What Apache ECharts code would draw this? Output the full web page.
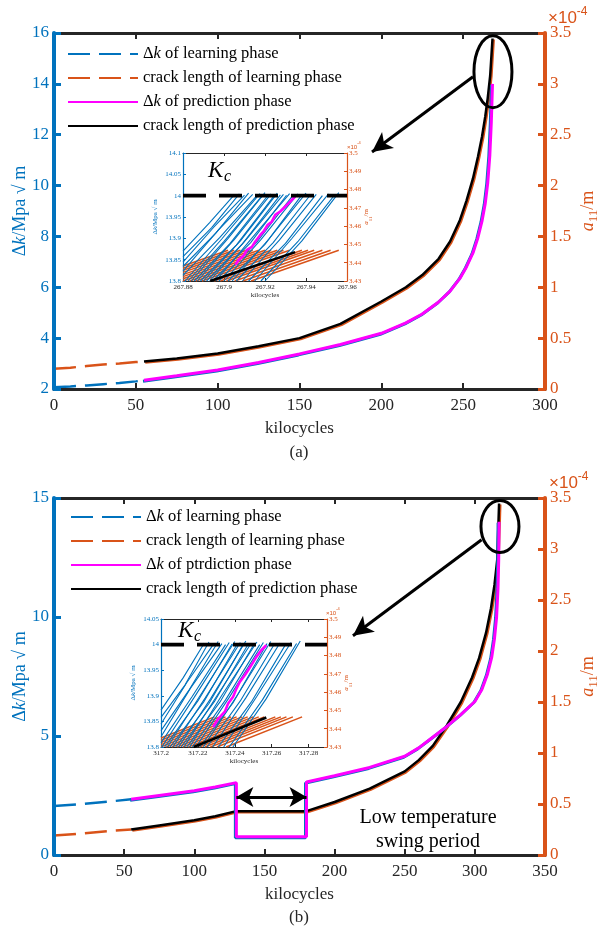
<!DOCTYPE html>
<html>
<head>
<meta charset="utf-8">
<script src="https://cdn.jsdelivr.net/npm/echarts@6/dist/echarts.min.js"></script>
<style>
html,body{margin:0;padding:0;background:#fff;}
#chart{width:602px;height:932px;}
</style>
</head>
<body>
<div id="chart"></div>
<script>
// ---------- panel (a): constant temperature ----------
const aLearnX   = [0, 10, 20, 30, 40, 50, 55];
const aLearnDk  = [2.07, 2.10, 2.14, 2.19, 2.24, 2.30, 2.34];
const aLearnLen = [0.20, 0.21, 0.225, 0.24, 0.25, 0.265, 0.27];

const aPredX    = [55, 75, 100, 125, 150, 175, 200, 215, 225, 235, 242, 248, 252, 256, 259, 261.5, 263.5, 265, 266.3, 267.2, 267.93];
const aPredDk   = [2.34, 2.52, 2.75, 3.04, 3.38, 3.75, 4.19, 4.60, 4.95, 5.42, 5.85, 6.35, 6.80, 7.35, 7.95, 8.60, 9.30, 10.1, 11.2, 12.5, 14.0];
const aCrackX   = [55, 75, 100, 125, 150, 175, 200, 215, 225, 235, 242, 248, 252, 256, 259, 261.5, 263.5, 265, 266.5, 267.93];
const aPredLen  = [0.27, 0.30, 0.35, 0.42, 0.50, 0.64, 0.86, 1.00, 1.12, 1.28, 1.45, 1.66, 1.85, 2.07, 2.28, 2.48, 2.68, 2.86, 3.08, 3.446];

// ---------- panel (b): with low temperature swing ----------
const bLearnX   = [0, 20, 40, 55];
const bLearnDk  = [2.06, 2.14, 2.25, 2.34];
const bLearnLen = [0.19, 0.21, 0.235, 0.25];

const bPredX    = [55, 75, 100, 115, 130, 130, 180, 180, 200, 225, 250, 260, 270, 280, 290, 300, 305, 309, 312, 314, 315.5, 316.5, 317, 317.26];
const bPredDk   = [2.34, 2.50, 2.70, 2.86, 3.04, 0.77, 0.77, 3.07, 3.33, 3.68, 4.15, 4.50, 4.95, 5.40, 5.90, 6.45, 6.95, 7.60, 8.30, 9.10, 10.0, 11.2, 12.4, 14.0];
const bCrackX   = [55, 75, 100, 115, 130, 180, 200, 225, 250, 260, 270, 280, 290, 298, 303, 308, 311.5, 314, 316, 317.26];
const bPredLen  = [0.25, 0.29, 0.34, 0.38, 0.43, 0.43, 0.52, 0.65, 0.82, 0.93, 1.07, 1.27, 1.50, 1.74, 1.93, 2.18, 2.42, 2.65, 2.90, 3.446];

// ---------- inset of (a): last cycles before Kc ----------
const kcA = [[267.88, 14], [267.96, 14]];
const insetADk = [
  [[267.880,13.870],[267.893,13.937],[267.905,14.002]],
  [[267.880,13.857],[267.894,13.925],[267.9075,14.004]],
  [[267.880,13.844],[267.895,13.926],[267.910,14.001]],
  [[267.880,13.834],[267.896,13.912],[267.912,14.006]],
  [[267.880,13.823],[267.897,13.918],[267.914,14.003]],
  [[267.880,13.813],[267.898,13.902],[267.916,14.000]],
  [[267.881,13.800],[267.899,13.899],[267.9175,14.005]],
  [[267.8825,13.800],[267.900,13.893],[267.919,14.002]],
  [[267.884,13.800],[267.902,13.900],[267.920,14.007]],
  [[267.8855,13.800],[267.903,13.888],[267.9215,14.001]],
  [[267.887,13.800],[267.905,13.897],[267.923,14.004]],
  [[267.8885,13.800],[267.906,13.884],[267.9245,14.000]],
  [[267.890,13.800],[267.908,13.894],[267.926,14.006]],
  [[267.8915,13.800],[267.909,13.887],[267.9275,14.002]],
  [[267.893,13.800],[267.911,13.898],[267.929,14.003]],
  [[267.8945,13.800],[267.913,13.890],[267.9305,14.001]],
  [[267.896,13.800],[267.914,13.903],[267.932,14.005]],
  [[267.8975,13.800],[267.916,13.891],[267.9335,14.000]],
  [[267.900,13.800],[267.918,13.897],[267.936,14.004]],
  [[267.902,13.800],[267.920,13.886],[267.938,14.002]],
  [[267.904,13.800],[267.922,13.899],[267.940,14.006]],
  [[267.906,13.800],[267.924,13.890],[267.942,14.001]],
  [[267.909,13.800],[267.927,13.896],[267.945,14.003]],
  [[267.912,13.800],[267.930,13.888],[267.948,14.000]],
  [[267.915,13.800],[267.933,13.899],[267.951,14.004]],
  [[267.918,13.800],[267.936,13.892],[267.954,14.002]],
  [[267.920,13.800],[267.938,13.894],[267.956,14.007]]
];
const insetALen = [
  [[267.880,3.4382],[267.902,3.4468]],
  [[267.880,3.4370],[267.905,3.4468]],
  [[267.880,3.4359],[267.908,3.4468]],
  [[267.880,3.4347],[267.911,3.4468]],
  [[267.880,3.4335],[267.914,3.4468]],
  [[267.880,3.4324],[267.917,3.4468]],
  [[267.880,3.4312],[267.920,3.4468]],
  [[267.880,3.4300],[267.923,3.4468]],
  [[267.8832,3.430],[267.926,3.4468]],
  [[267.8862,3.430],[267.929,3.4468]],
  [[267.8892,3.430],[267.932,3.4468]],
  [[267.8952,3.430],[267.938,3.4468]],
  [[267.8982,3.430],[267.941,3.4468]],
  [[267.9012,3.430],[267.944,3.4468]],
  [[267.9052,3.430],[267.948,3.4468]],
  [[267.9092,3.430],[267.952,3.4468]],
  [[267.9132,3.430],[267.956,3.4468]]
];
const insetADkPred = [[267.9055,13.838],[267.9071,13.849],[267.9095,13.859],[267.9112,13.873],[267.9136,13.880],
  [267.9152,13.892],[267.9177,13.908],[267.9193,13.916],[267.9212,13.931],[267.9233,13.939],[267.9250,13.955],
  [267.9274,13.963],[267.9298,13.974],[267.9323,13.986],[267.9347,13.998]];
const insetALenPred = [[267.8933,3.430],[267.9347,3.4458]];

// ---------- inset of (b) ----------
const kcB = [[317.2, 14], [317.29, 14]];
const insetBDk = [
  [[317.200,13.872],[317.212,13.935],[317.2235,14.003]],
  [[317.200,13.858],[317.213,13.921],[317.226,14.005]],
  [[317.200,13.845],[317.214,13.926],[317.2285,14.001]],
  [[317.200,13.832],[317.215,13.910],[317.231,14.006]],
  [[317.200,13.820],[317.216,13.915],[317.233,14.002]],
  [[317.200,13.808],[317.217,13.899],[317.235,14.000]],
  [[317.2005,13.800],[317.218,13.897],[317.237,14.004]],
  [[317.202,13.800],[317.220,13.890],[317.2385,14.001]],
  [[317.2035,13.800],[317.221,13.899],[317.240,14.006]],
  [[317.205,13.800],[317.223,13.887],[317.2415,14.002]],
  [[317.2065,13.800],[317.224,13.896],[317.243,14.004]],
  [[317.208,13.800],[317.226,13.885],[317.2445,14.000]],
  [[317.2095,13.800],[317.227,13.895],[317.246,14.007]],
  [[317.211,13.800],[317.229,13.889],[317.2475,14.002]],
  [[317.2125,13.800],[317.230,13.898],[317.249,14.003]],
  [[317.214,13.800],[317.232,13.888],[317.2505,14.001]],
  [[317.2155,13.800],[317.233,13.901],[317.252,14.005]],
  [[317.217,13.800],[317.235,13.892],[317.2535,14.000]],
  [[317.219,13.800],[317.237,13.897],[317.2555,14.004]],
  [[317.221,13.800],[317.239,13.886],[317.2575,14.002]],
  [[317.223,13.800],[317.241,13.899],[317.2595,14.006]],
  [[317.225,13.800],[317.243,13.890],[317.2615,14.001]],
  [[317.228,13.800],[317.246,13.896],[317.2645,14.003]],
  [[317.231,13.800],[317.249,13.888],[317.2675,14.000]],
  [[317.234,13.800],[317.252,13.899],[317.2705,14.004]],
  [[317.237,13.800],[317.255,13.892],[317.2735,14.002]],
  [[317.239,13.800],[317.257,13.894],[317.2755,14.007]]
];
const insetBLen = [
  [[317.200,3.4349],[317.229,3.4465]],
  [[317.200,3.4337],[317.232,3.4465]],
  [[317.200,3.4325],[317.235,3.4465]],
  [[317.200,3.4313],[317.238,3.4465]],
  [[317.200,3.4301],[317.241,3.4465]],
  [[317.2028,3.430],[317.244,3.4465]],
  [[317.2058,3.430],[317.247,3.4465]],
  [[317.2088,3.430],[317.250,3.4465]],
  [[317.2118,3.430],[317.253,3.4465]],
  [[317.2148,3.430],[317.256,3.4465]],
  [[317.2208,3.430],[317.262,3.4465]],
  [[317.2238,3.430],[317.265,3.4465]],
  [[317.2268,3.430],[317.268,3.4465]],
  [[317.2303,3.430],[317.2715,3.4465]],
  [[317.2353,3.430],[317.2765,3.4465]]
];
const insetBDkPred = [[317.2283,13.839],[317.2310,13.855],[317.2346,13.869],[317.2364,13.885],[317.2391,13.898],
  [317.2409,13.914],[317.2427,13.927],[317.2454,13.940],[317.2472,13.950],[317.2490,13.960],[317.2517,13.976],
  [317.2544,13.989],[317.2571,13.999]];
const insetBLenPred = [[317.2177,3.430],[317.2571,3.4461]];

// ---------- styling ----------
const FONT = '"Liberation Serif", "Times New Roman", serif';
const BLUE = '#0072BD', ORANGE = '#D95319', MAG = '#FF00FF', INK = '#262626';
const DASH = [22, 9];

const zip = (xs, ys) => xs.map((x, i) => [x, ys[i]]);

function xAxisDef(grid, min, max, step, pos, big, showLabel, showMax) {
  return {
    type: 'value', gridIndex: grid, min: min, max: max, interval: step, position: pos,
    axisLine: { show: true, onZero: false, lineStyle: { color: INK, width: big ? 3 : 1 } },
    axisTick: { show: true, inside: true, length: big ? 6 : 3, lineStyle: { color: INK, width: big ? 2 : 1 } },
    axisLabel: { show: showLabel, color: INK, fontSize: big ? 17 : 7, fontFamily: FONT, margin: big ? 8 : 3, showMaxLabel: showMax },
    splitLine: { show: false },
    name: showLabel ? 'kilocycles' : '', nameLocation: 'middle', nameGap: big ? 31 : 11, nameMoveOverlap: false,
    nameTextStyle: { color: INK, fontSize: big ? 17 : 7, fontFamily: FONT },
    z: 3
  };
}
function yAxisDef(grid, min, max, step, pos, color, big, name, nameGap, rich) {
  return {
    type: 'value', gridIndex: grid, min: min, max: max, interval: step, position: pos,
    axisLine: { show: true, onZero: false, lineStyle: { color: color, width: big ? 4 : 1.2 } },
    axisTick: { show: true, inside: true, length: big ? 7 : 3, lineStyle: { color: color, width: big ? 3 : 1 } },
    axisLabel: { color: color, fontSize: big ? 17 : 7, fontFamily: FONT, margin: big ? 5 : 2 },
    splitLine: { show: false },
    name: name, nameLocation: 'middle', nameGap: nameGap, nameMoveOverlap: false,
    nameTextStyle: { color: color, fontSize: big ? 18 : 7, fontFamily: FONT, lineHeight: big ? 24 : 10, rich: rich },
    z: 4
  };
}
const dkRich = (fs) => ({ d: { fontSize: fs, lineHeight: fs + 6 }, k: { fontStyle: 'italic', fontSize: fs, lineHeight: fs + 6 }, n: { fontSize: fs, lineHeight: fs + 6 } });
const aRich = (fs, sub) => ({ a: { fontStyle: 'italic', fontSize: fs, lineHeight: fs + 6 }, s: { fontSize: sub, lineHeight: sub + 1, verticalAlign: 'bottom' }, n: { fontSize: fs, lineHeight: fs + 6 } });
const DK_NAME = '{d|Δ}{k|k}{n|/Mpa √ m}';
const A_NAME = '{a|a}{s|11}{n|/m}';

const xAxes = [
  xAxisDef(0, 0, 300, 50, 'bottom', true, true, true),
  xAxisDef(0, 0, 300, 50, 'top', true, false, true),
  xAxisDef(1, 0, 350, 50, 'bottom', true, true, true),
  xAxisDef(1, 0, 350, 50, 'top', true, false, true),
  xAxisDef(2, 267.88, 267.96, 0.02, 'bottom', false, true, true),
  xAxisDef(2, 267.88, 267.96, 0.02, 'top', false, false, true),
  xAxisDef(3, 317.2, 317.29, 0.02, 'bottom', false, true, false),
  xAxisDef(3, 317.2, 317.29, 0.02, 'top', false, false, false)
];
const yAxes = [
  yAxisDef(0, 2, 16, 2, 'left', BLUE, true, DK_NAME, 22, dkRich(18)),
  yAxisDef(0, 0, 3.5, 0.5, 'right', ORANGE, true, A_NAME, 31, aRich(18, 13)),
  yAxisDef(1, 0, 15, 5, 'left', BLUE, true, DK_NAME, 22, dkRich(18)),
  yAxisDef(1, 0, 3.5, 0.5, 'right', ORANGE, true, A_NAME, 31, aRich(18, 13)),
  yAxisDef(2, 13.8, 14.1, 0.05, 'left', BLUE, false, DK_NAME, 21, dkRich(7)),
  yAxisDef(2, 3.43, 3.5, 0.01, 'right', ORANGE, false, A_NAME, 13, aRich(7, 5)),
  yAxisDef(3, 13.8, 14.05, 0.05, 'left', BLUE, false, DK_NAME, 21, dkRich(7)),
  yAxisDef(3, 3.43, 3.5, 0.01, 'right', ORANGE, false, A_NAME, 13, aRich(7, 5))
];

function line(name, xi, yi, data, color, width, opts) {
  return Object.assign({
    type: 'line', name: name, xAxisIndex: xi, yAxisIndex: yi, data: data,
    symbol: 'none', showSymbol: false, silent: true, z: 2,
    lineStyle: { color: color, width: width }, itemStyle: { color: color }
  }, opts || {});
}
const fringe = (c, dx, dy) => ({ shadowColor: c, shadowBlur: 0, shadowOffsetX: dx, shadowOffsetY: dy });

const N_LEARN_DK = 'Δk of learning phase';
const N_LEARN_LEN = 'crack length of learning phase';
const N_PRED_DK_A = 'Δk of prediction phase';
const N_PRED_DK_B = 'Δk of ptrdiction phase';
const N_PRED_LEN = 'crack length of prediction phase';

const series = [
  // panel (a)
  line(N_LEARN_LEN, 0, 1, zip(aLearnX, aLearnLen), ORANGE, 2.5, { lineStyle: { color: ORANGE, width: 2.5, type: DASH } }),
  line(N_LEARN_DK, 0, 0, zip(aLearnX, aLearnDk), BLUE, 2.5, { lineStyle: { color: BLUE, width: 2.5, type: DASH } }),
  line(N_PRED_LEN, 0, 1, zip(aCrackX, aPredLen), '#000', 2.5, { lineStyle: Object.assign({ color: '#000', width: 2.5 }, fringe(ORANGE, 1.2, 1)) }),
  line(N_PRED_DK_A, 0, 0, zip(aPredX, aPredDk), MAG, 3, { lineStyle: Object.assign({ color: MAG, width: 3 }, fringe(BLUE, -1, 1)) }),
  // panel (b)
  line(N_LEARN_LEN, 2, 3, zip(bLearnX, bLearnLen), ORANGE, 2.5, { lineStyle: { color: ORANGE, width: 2.5, type: DASH } }),
  line(N_LEARN_DK, 2, 2, zip(bLearnX, bLearnDk), BLUE, 2.5, { lineStyle: { color: BLUE, width: 2.5, type: DASH } }),
  line(N_PRED_LEN, 2, 3, zip(bCrackX, bPredLen), '#000', 2.5, { lineStyle: Object.assign({ color: '#000', width: 2.5 }, fringe(ORANGE, 1.2, 1)) }),
  line(N_PRED_DK_B, 2, 2, zip(bPredX, bPredDk), MAG, 3, {
    lineStyle: Object.assign({ color: MAG, width: 3 }, fringe(BLUE, -1, 1)),
    markLine: {
      silent: true, symbol: ['arrow', 'arrow'], symbolSize: [15, 17],
      label: { show: false }, lineStyle: { color: '#000', width: 3, type: 'solid' },
      data: [[{ coord: [130, 2.44] }, { coord: [180, 2.44] }]]
    }
  })
];

// pointer arrows from the failure region to each inset
series[0].markLine = {
  silent: true, symbol: ['none', 'arrow'], symbolSize: [15, 20], label: { show: false },
  lineStyle: { color: '#000', width: 3, type: 'solid' },
  data: [[{ coord: [256, 3.07] }, { coord: [194.3, 2.33] }]]
};
series[4].markLine = {
  silent: true, symbol: ['none', 'arrow'], symbolSize: [15, 20], label: { show: false },
  lineStyle: { color: '#000', width: 3, type: 'solid' },
  data: [[{ coord: [304.8, 3.09] }, { coord: [213.1, 2.15] }]]
};

function insetSeries(xi, yDk, yLen, dkLines, lenLines, dkPred, lenPred, kc) {
  const out = [];
  lenLines.forEach(d => out.push(line('', xi, yLen, d, ORANGE, 1.5, { z: 5 })));
  dkLines.forEach(d => out.push(line('', xi, yDk, d, BLUE, 1.1, { z: 6 })));
  out.push(line('', xi, yLen, lenPred, '#000', 2.6, { z: 7 }));
  out.push(line('', xi, yDk, dkPred, MAG, 2.6, { z: 7 }));
  out.push(line('', xi, yDk, kc, '#000', 3.6, { z: 8, lineStyle: { color: '#000', width: 3.6, type: [23, 13] } }));
  return out;
}
series.push(...insetSeries(4, 4, 5, insetADk, insetALen, insetADkPred, insetALenPred, kcA));
series.push(...insetSeries(6, 6, 7, insetBDk, insetBLen, insetBDkPred, insetBLenPred, kcB));

const legendText = {
  color: '#000', fontSize: 16.5, fontFamily: FONT, lineHeight: 20,
  rich: { d: { fontSize: 16.5, lineHeight: 20 }, k: { fontStyle: 'italic', fontSize: 16.5, lineHeight: 20 }, t: { fontSize: 16.5, lineHeight: 20 } }
};
const legendFmt = (n) => n.indexOf('Δk') === 0 ? '{d|Δ}{k|k}{t|' + n.slice(2) + '}' : n;
function legendDef(left, top, names) {
  return {
    orient: 'vertical', left: left, top: top, itemWidth: 70, itemHeight: 20, itemGap: 4,
    selectedMode: false, data: names, formatter: legendFmt, textStyle: legendText, padding: 0,
    itemStyle: { color: 'rgba(0,0,0,0)', borderColor: 'rgba(0,0,0,0)', borderWidth: 0 }
  };
}

const option = {
  animation: false,
  backgroundColor: '#fff',
  textStyle: { fontFamily: FONT },
  grid: [
    { left: 54, top: 33, width: 491, height: 356, outerBoundsMode: 'none' },
    { left: 54, top: 498, width: 491, height: 357, outerBoundsMode: 'none' },
    { left: 183, top: 153, width: 164, height: 128, outerBoundsMode: 'none', show: true, backgroundColor: '#fff', borderWidth: 0 },
    { left: 161, top: 619, width: 166, height: 128, outerBoundsMode: 'none', show: true, backgroundColor: '#fff', borderWidth: 0 }
  ],
  xAxis: xAxes,
  yAxis: yAxes,
  legend: [
    legendDef(67, 44, [N_LEARN_DK, N_LEARN_LEN, N_PRED_DK_A, N_PRED_LEN]),
    legendDef(70, 507, [N_LEARN_DK, N_LEARN_LEN, N_PRED_DK_B, N_PRED_LEN])
  ],
  series: series
};

const chart = echarts.init(document.getElementById('chart'), null, { renderer: 'canvas' });
chart.setOption(option);

// annotations: circled failure regions, exponent labels, Kc and captions
const expRich = (fs, ps) => ({ m: { fontSize: fs, lineHeight: fs + 7 }, p: { fontSize: ps, lineHeight: ps + 1, verticalAlign: 'top' } });
const centerA = chart.convertToPixel({ seriesIndex: 0 }, [268.2, 3.12]);
const centerB = chart.convertToPixel({ seriesIndex: 4 }, [317.9, 3.22]);
const txt = (x, y, text, style) => ({ type: 'text', x: x, y: y, z: 100, style: Object.assign({ text: text, fontFamily: FONT, fill: '#000' }, style) });
const kc = (x, y) => [
  txt(x, y, 'K', { fontSize: 23, fontStyle: 'italic', verticalAlign: 'middle' }),
  txt(x + 16, y + 6, 'c', { fontSize: 16, fontStyle: 'italic', verticalAlign: 'middle' })
];

chart.setOption({
  graphic: [
    { type: 'ellipse', z: 100, shape: { cx: centerA[0], cy: centerA[1], rx: 19, ry: 36 }, style: { fill: 'none', stroke: '#000', lineWidth: 3 } },
    { type: 'ellipse', z: 100, shape: { cx: centerB[0], cy: centerB[1], rx: 19, ry: 26 }, style: { fill: 'none', stroke: '#000', lineWidth: 3 } },
    txt(548, 6, '{m|×10}{p|-4}', { fill: ORANGE, fontSize: 17, rich: expRich(17, 12) }),
    txt(549, 471, '{m|×10}{p|-4}', { fill: ORANGE, fontSize: 17, rich: expRich(17, 12) }),
    txt(347, 141, '{m|×10}{p|-4}', { fill: ORANGE, fontSize: 6, rich: expRich(6, 4) }),
    txt(326, 607, '{m|×10}{p|-4}', { fill: ORANGE, fontSize: 6, rich: expRich(6, 4) }),
    ...kc(208, 171),
    ...kc(178, 631),
    txt(428, 818, 'Low temperature', { fontSize: 20, align: 'center', verticalAlign: 'middle' }),
    txt(428, 842, 'swing period', { fontSize: 20, align: 'center', verticalAlign: 'middle' }),
    txt(299, 453, '(a)', { fontSize: 17, align: 'center', verticalAlign: 'middle', fill: INK }),
    txt(299, 918, '(b)', { fontSize: 17, align: 'center', verticalAlign: 'middle', fill: INK })
  ]
});
</script>
</body>
</html>
